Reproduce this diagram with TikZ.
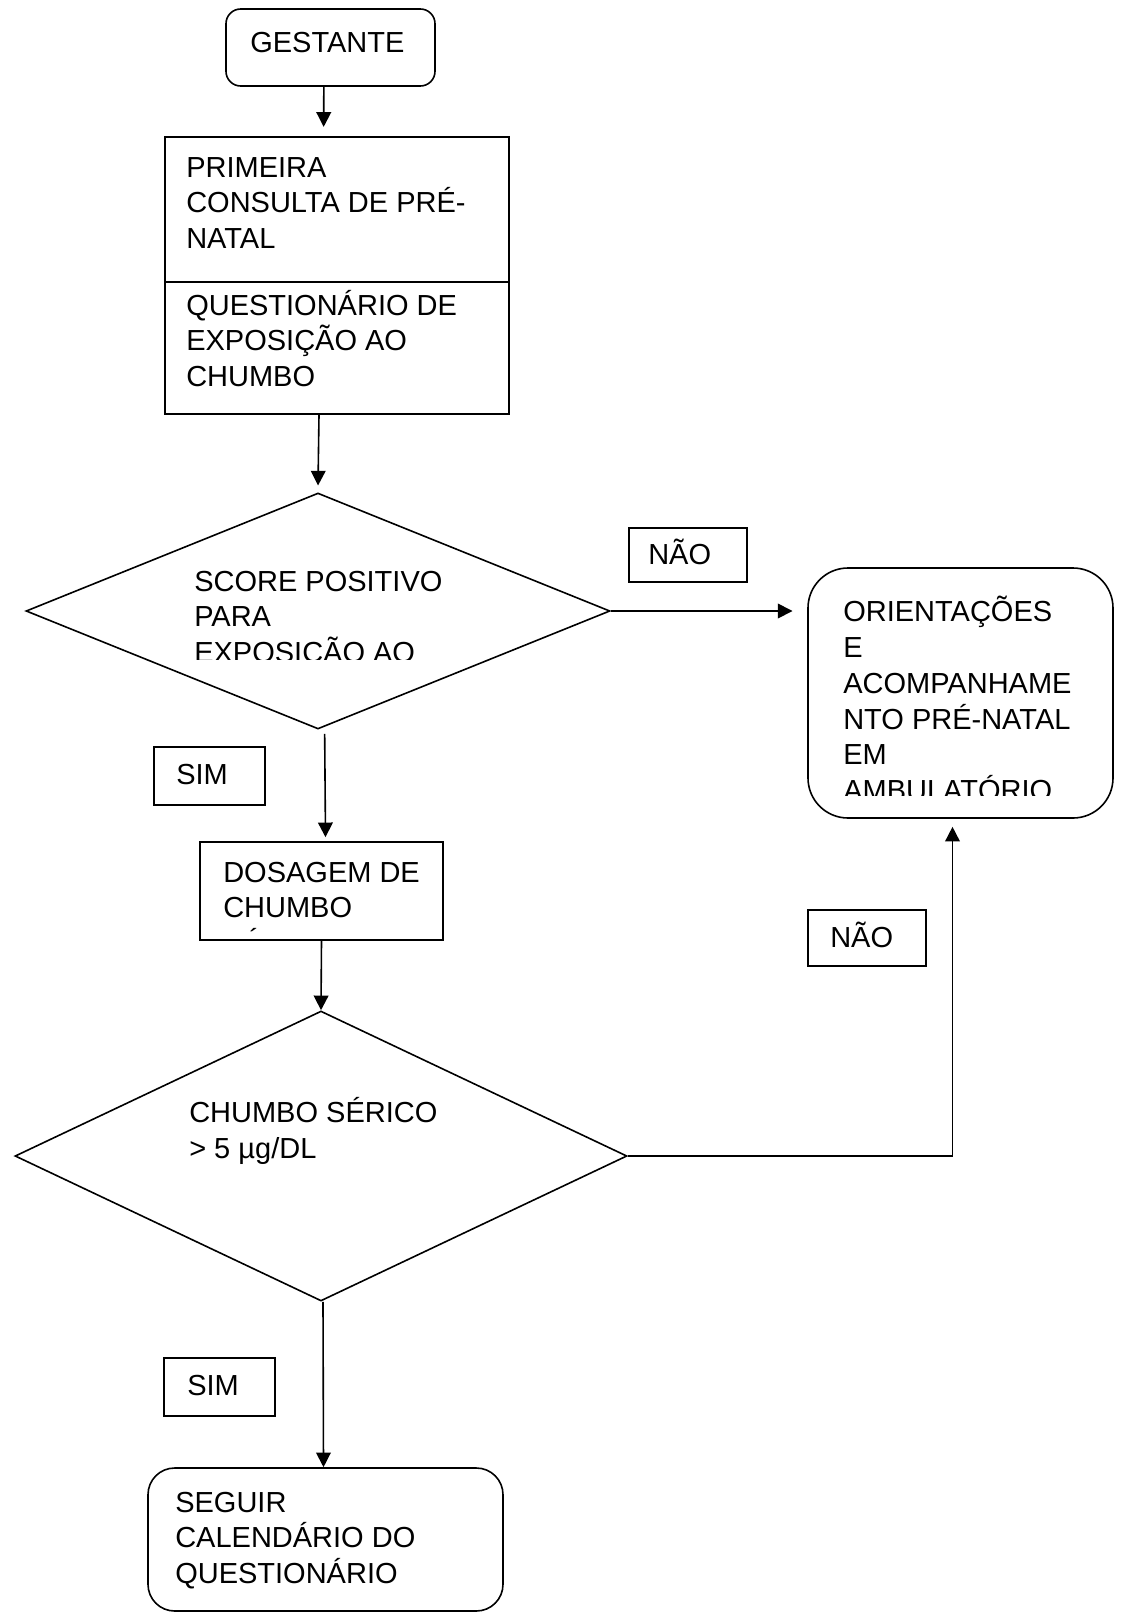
\documentclass[tikz,border=0pt]{standalone}
\usepackage{fontspec}
\setmainfont{Liberation Sans}
\usetikzlibrary{shapes.geometric,arrows.meta}
\newcommand{\pxl}{0.75pt}
\tikzset{
	caixa/.style 2 args={draw, rectangle, line width=1.2pt, inner sep=0pt, minimum width=#1*\pxl, minimum height=#2*\pxl},
	decisao/.style 2 args={draw, diamond, line width=1.2pt, inner sep=0pt, minimum width=#1*\pxl, minimum height=#2*\pxl},
	texto/.style={anchor=base west, inner sep=0pt, align=left, font=\fontsize{21.75}{26.8}\selectfont},
	seta/.style={line width=1.2pt, -{Triangle[length=11pt, width=11pt]}}
}
\begin{document}
\begin{tikzpicture}[x=0.75pt, y=-0.75pt]
	\useasboundingbox (0,0) rectangle (1123,1614);
	% caixas
	\node[caixa={209}{77}, rounded corners=11pt] (gestante) at (330.5,47.5) {};
	\node[caixa={344}{145}] (primeira) at (337,209.5) {};
	\node[caixa={344}{132}] (questionario) at (337,348) {};
	\node[decisao={584}{236}] (score) at (318,611) {};
	\node[caixa={118}{54}] (naoA) at (688,555) {};
	\node[caixa={305}{250}, rounded corners=30pt] (orientacoes) at (960.5,693) {};
	\node[caixa={111}{58}] (simA) at (209.5,776) {};
	\node[caixa={243}{98}] (dosagem) at (321.5,891) {};
	\node[decisao={612}{290}] (serico) at (321,1156) {};
	\node[caixa={118}{56}] (naoB) at (867,938) {};
	\node[caixa={111}{58}] (simB) at (219.5,1387) {};
	\node[caixa={355}{143}, rounded corners=20pt] (seguir) at (325.5,1539.5) {};
	% textos (posicao = linha de base da ultima linha)
	\node[texto] (tgestante) at (250,52) {GESTANTE};
	\node[texto] (tprimeira) at (186,248.5) {PRIMEIRA\\CONSULTA DE PRÉ-\\NATAL};
	\node[texto] (tquestionario) at (186,386.5) {QUESTIONÁRIO DE\\EXPOSIÇÃO AO\\CHUMBO};
	\begin{scope}
		\clip (150,560) rectangle (600,659);
		\node[texto] (tscore) at (194,662.5) {SCORE POSITIVO\\PARA\\EXPOSIÇÃO AO};
	\end{scope}
	\node[texto] (tnaoA) at (648,564) {NÃO};
	\begin{scope}
		\clip (830,580) rectangle (1100,795);
		\node[texto] (torientacoes) at (843,800.5) {ORIENTAÇÕES\\E\\ACOMPANHAME\\NTO PRÉ-NATAL\\EM\\AMBULATÓRIO};
	\end{scope}
	\node[texto] (tsimA) at (176,784) {SIM};
	\begin{scope}
		\clip (205,850) rectangle (440,931.5);
		\node[texto] (tdosagem) at (223,953.5) {DOSAGEM DE\\CHUMBO\\SÉRICO};
	\end{scope}
	\node[texto] (tserico) at (189,1158.7) {CHUMBO SÉRICO\\> 5 µg/DL};
	\node[texto] (tnaoB) at (830,947) {NÃO};
	\node[texto] (tsimB) at (187,1395) {SIM};
	\node[texto] (tseguir) at (175,1583.5) {SEGUIR\\CALENDÁRIO DO\\QUESTIONÁRIO};
	% setas
	\draw[seta] ([xshift=-5pt]gestante.south) -- ([xshift=-10pt, yshift=7pt]primeira.north);
	\draw[seta] ([xshift=-13.5pt]questionario.south) -- ([yshift=5pt]score.north);
	\draw[seta] (score.east) -- ([xshift=-11pt]score.east -| orientacoes.west);
	\draw[seta] ([xshift=5pt, yshift=-3pt]score.south) -- ([xshift=3pt, yshift=3pt]dosagem.north);
	\draw[seta] (dosagem.south) -- (serico.north);
	\draw[seta] (serico.east) -| ([xshift=-6pt, yshift=-6pt]orientacoes.south);
	\draw[seta] ([xshift=1.5pt]serico.south) -- ([xshift=-1.5pt]seguir.north);
\end{tikzpicture}
\end{document}
